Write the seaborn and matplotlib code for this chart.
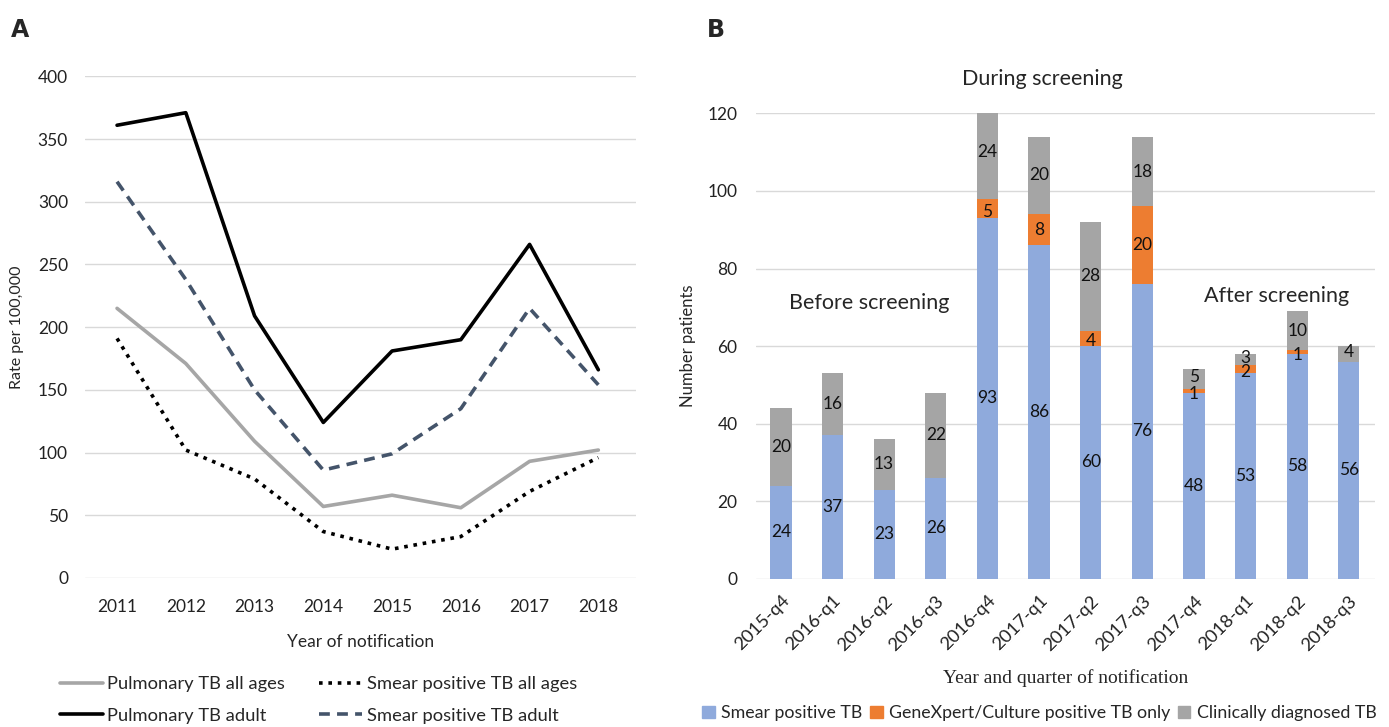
import numpy as np
import pandas as pd
import seaborn as sns
from matplotlib import pyplot as plt
from matplotlib.patches import Patch

# panel A data
years = [2011, 2012, 2013, 2014, 2015, 2016, 2017, 2018]
pulm_all = [215, 171, 109, 57, 66, 56, 93, 102]
smear_all = [191, 102, 79, 37, 23, 33, 69, 96]
pulm_adult = [361, 371, 209, 124, 181, 190, 266, 166]
smear_adult = [316, 238, 150, 86, 99, 135, 215, 154]

# panel B data
quarters = ['2015-q4', '2016-q1', '2016-q2', '2016-q3', '2016-q4', '2017-q1',
            '2017-q2', '2017-q3', '2017-q4', '2018-q1', '2018-q2', '2018-q3']
smear_pos = [24, 37, 23, 26, 93, 86, 60, 76, 48, 53, 58, 56]
genexpert = [0, 0, 0, 0, 5, 8, 4, 20, 1, 2, 1, 0]
clinical = [20, 16, 13, 22, 24, 20, 28, 18, 5, 3, 10, 4]

sns.set_theme(style="white")
plt.rcParams['font.family'] = ['Lato', 'DejaVu Sans']

fig = plt.figure(figsize=(13.89, 7.27), dpi=100)
ax0 = fig.add_axes([0.061, 0.205, 0.397, 0.690])
ax1 = fig.add_axes([0.544, 0.204, 0.4457, 0.640])

grid_c = '#d9d9d9'

# ---- A
line_specs = [
    ('Pulmonary TB all ages', pulm_all, '#a6a6a6', '-'),
    ('Pulmonary TB adult', pulm_adult, 'black', '-'),
    ('Smear positive TB all ages', smear_all, 'black', (0, (1, 1.6))),
    ('Smear positive TB adult', smear_adult, '#44546a', (0, (3, 2))),
]
for name, vals, col, ls in line_specs:
    sns.lineplot(x=years, y=vals, ax=ax0, color=col, linestyle=ls,
                 linewidth=2.6, label=name)
ax0.set_xlim(2011 - 0.47, 2018 + 0.55)
ax0.set_ylim(0, 400)
ax0.set_yticks(range(0, 401, 50))
ax0.set_xticks(years)
ax0.yaxis.grid(True, color=grid_c, linewidth=1)
for s in ax0.spines.values():
    s.set_visible(False)
ax0.tick_params(axis='both', length=0, labelsize=12.5, colors='#222222')
ax0.tick_params(axis='x', pad=15)
ax0.tick_params(axis='y', pad=12)
ax0.set_ylabel('Rate per 100,000', fontsize=11.5, labelpad=10)
ax0.set_xlabel('Year of notification', fontsize=12.5, labelpad=14)
handles, labels = ax0.get_legend_handles_labels()
ax0.get_legend().remove()
fig.legend(handles, labels, loc='lower left', bbox_to_anchor=(0.031, -0.018),
           ncol=2, frameon=False, fontsize=13.2, handlelength=2.35,
           handletextpad=0.25, columnspacing=1.85, labelspacing=0.85)

# ---- B
df = pd.DataFrame({'quarter': quarters, 'smear': smear_pos,
                   'gx': genexpert, 'clin': clinical})
df['lvl1'] = df['smear']
df['lvl2'] = df['smear'] + df['gx']
df['lvl3'] = df['lvl2'] + df['clin']

cols = {'lvl3': '#a5a5a5', 'lvl2': '#ed7d31', 'lvl1': '#8faadc'}
for lvl in ['lvl3', 'lvl2', 'lvl1']:
    sns.barplot(data=df, x='quarter', y=lvl, ax=ax1, color=cols[lvl],
                width=0.41, saturation=1, linewidth=0, zorder=3)

for i, r in df.iterrows():
    segs = [(0, r['smear'], 0), (r['lvl1'], r['gx'], -0.8), (r['lvl2'], r['clin'], 0.5)]
    for base, v, nudge in segs:
        if v > 0:
            off = nudge if v <= 5 else 0
            ax1.text(i, base + v / 2 + off, str(v), ha='center', va='center',
                     fontsize=12.5, color='#111111', zorder=4)

ax1.set_xlim(-0.49, 11.5)
ax1.set_ylim(0, 120)
ax1.set_yticks(range(0, 121, 20))
ax1.yaxis.grid(True, color=grid_c, linewidth=1, zorder=0)
ax1.set_axisbelow(True)
for s in ax1.spines.values():
    s.set_visible(False)
ax1.tick_params(axis='both', length=0, labelsize=12.5, colors='#222222')
ax1.tick_params(axis='y', pad=13)
ax1.tick_params(axis='x', pad=10, labelsize=13.2)
plt.setp(ax1.get_xticklabels(), rotation=45, ha='right', rotation_mode='anchor')
ax1.set_ylabel('Number patients', fontsize=12, labelpad=8)
ax1.set_xlabel('Year and quarter of notification', fontsize=14,
               family=['Liberation Serif', 'DejaVu Serif'], labelpad=11)

ax1.text(5.07, 129, 'During screening', ha='center', va='center', fontsize=15.5,
         clip_on=False)
ax1.text(1.7, 71, 'Before screening', ha='center', va='center', fontsize=15.5)
ax1.text(9.6, 73, 'After screening', ha='center', va='center', fontsize=15.5)

leg_handles = [Patch(color='#8faadc', label='Smear positive TB'),
               Patch(color='#ed7d31', label='GeneXpert/Culture positive TB only'),
               Patch(color='#a5a5a5', label='Clinically diagnosed TB')]
fig.legend(handles=leg_handles, loc='lower left', bbox_to_anchor=(0.494, -0.014),
           ncol=3, frameon=False, fontsize=12.8, handlelength=0.7,
           handleheight=0.7, handletextpad=0.35, columnspacing=0.45)

fig.text(0.008, 0.975, 'A', fontsize=17, fontweight='bold', va='top',
         family='DejaVu Sans')
fig.text(0.509, 0.975, 'B', fontsize=17, fontweight='bold', va='top',
         family='DejaVu Sans')

fig.savefig('out.png', dpi=100)
